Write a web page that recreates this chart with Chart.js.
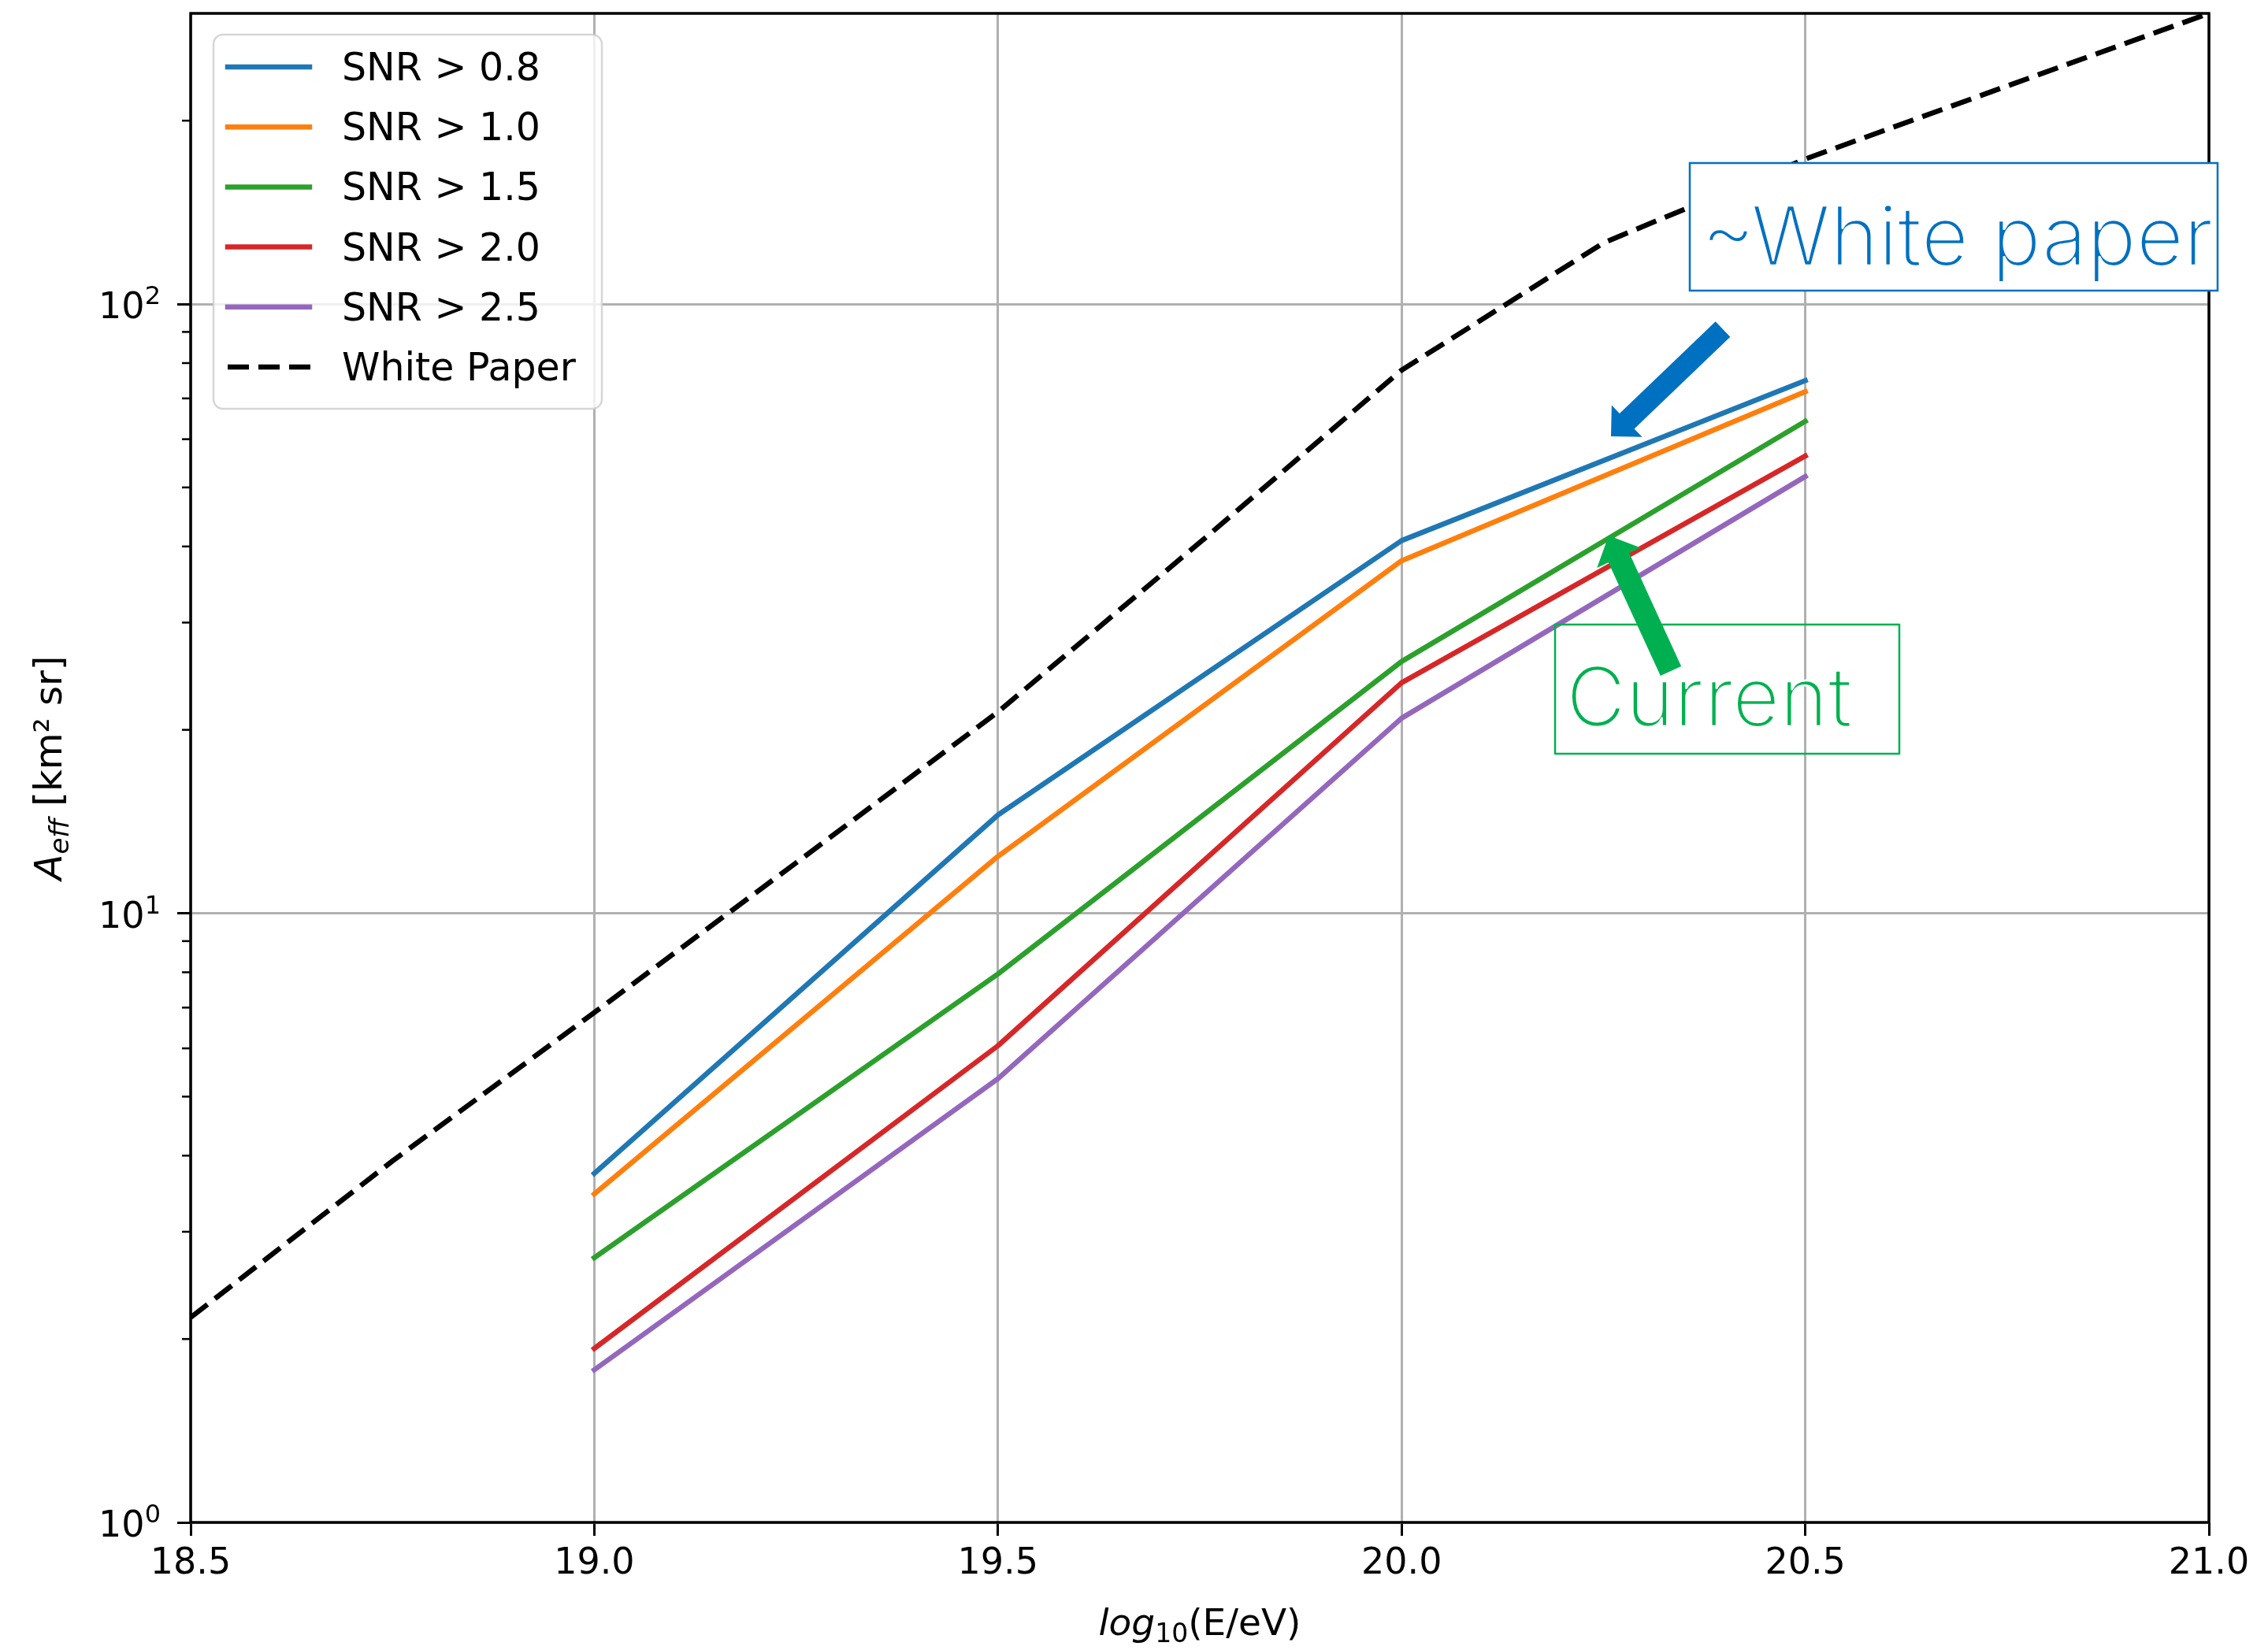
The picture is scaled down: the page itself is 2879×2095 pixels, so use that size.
<!DOCTYPE html>
<html>
<head>
<meta charset="utf-8">
<script src="https://cdn.jsdelivr.net/npm/chart.js@4.4.1/dist/chart.umd.min.js"></script>
<style>
  html, body { margin: 0; padding: 0; background: #fff; overflow: hidden; }
  #chart { display: block; }
</style>
</head>
<body>
<canvas id="chart" width="2879" height="2095"></canvas>
<script>
// energy bins, log10(E/eV)
const energies = [19.0, 19.5, 20.0, 20.5];

// effective aperture [km^2 sr] per SNR cut
const snr08 = [3.74, 14.5, 40.9, 74.9];
const snr10 = [3.46, 12.4, 37.9, 71.8];
const snr15 = [2.72, 7.95, 25.9, 64.2];
const snr20 = [1.93, 6.06, 23.9, 56.3];
const snr25 = [1.78, 5.35, 20.9, 52.1];

// white paper reference curve
const wpEnergies = [18.5, 18.75, 19.0, 19.25, 19.5, 19.75, 20.0, 20.25, 20.5, 20.75, 21.0];
const wpAeff = [2.17, 3.92, 6.87, 12.1, 21.4, 40.6, 77.9, 126, 173, 228, 300];

const seriesLabels = ['SNR > 0.8', 'SNR > 1.0', 'SNR > 1.5', 'SNR > 2.0', 'SNR > 2.5', 'White Paper'];
const seriesColors = ['#1f77b4', '#ff7f0e', '#2ca02c', '#d62728', '#9467bd', '#000000'];

// axis ticks
const xTicks = [18.5, 19.0, 19.5, 20.0, 20.5, 21.0];
const yMajorTicks = [1, 10, 100];
const yMinorTicks = [2, 3, 4, 5, 6, 7, 8, 9, 20, 30, 40, 50, 60, 70, 80, 90, 200];

const FONT = '"DejaVu Sans", sans-serif';

function pts(xs, ys) {
  return xs.map((x, i) => ({ x: x, y: ys[i] }));
}

const snrSeries = [snr08, snr10, snr15, snr20, snr25];
const datasets = snrSeries.map((vals, i) => ({
  label: seriesLabels[i],
  data: pts(energies, vals),
  borderColor: seriesColors[i],
  borderWidth: 6.5,
  borderCapStyle: 'square',
  borderJoinStyle: 'round'
}));
datasets.push({
  label: seriesLabels[5],
  data: pts(wpEnergies, wpAeff),
  borderColor: seriesColors[5],
  borderWidth: 6.5,
  borderDash: [27, 12],
  borderCapStyle: 'butt',
  borderJoinStyle: 'round'
});

// draw a run of text pieces, returns total width
function textRun(ctx, parts, x, y, measureOnly) {
  let cx = x;
  parts.forEach(p => {
    ctx.font = (p.italic ? 'italic ' : '') + p.size + 'px ' + FONT;
    if (!measureOnly) ctx.fillText(p.text, cx, y + (p.dy || 0));
    cx += ctx.measureText(p.text).width;
  });
  return cx - x;
}

function drawArrow(ctx, tail, tip, shaftW, headW, headL, color) {
  const dx = tip[0] - tail[0], dy = tip[1] - tail[1];
  const len = Math.hypot(dx, dy);
  const ux = dx / len, uy = dy / len;
  const px = -uy, py = ux;
  const bx = tip[0] - ux * headL, by = tip[1] - uy * headL;
  ctx.fillStyle = color;
  ctx.beginPath();
  ctx.moveTo(tail[0] + px * shaftW / 2, tail[1] + py * shaftW / 2);
  ctx.lineTo(bx + px * shaftW / 2, by + py * shaftW / 2);
  ctx.lineTo(bx + px * headW / 2, by + py * headW / 2);
  ctx.lineTo(tip[0], tip[1]);
  ctx.lineTo(bx - px * headW / 2, by - py * headW / 2);
  ctx.lineTo(bx - px * shaftW / 2, by - py * shaftW / 2);
  ctx.lineTo(tail[0] - px * shaftW / 2, tail[1] - py * shaftW / 2);
  ctx.closePath();
  ctx.fill();
}

// light-weight looking label: fill, then trim the strokes with a thin white outline
function lightText(ctx, text, x, y, color) {
  ctx.fillStyle = color;
  ctx.fillText(text, x, y);
  ctx.strokeStyle = '#fff';
  ctx.lineWidth = 2.5;
  ctx.lineJoin = 'round';
  ctx.strokeText(text, x, y);
}

const decorations = {
  id: 'decorations',
  afterDatasetsDraw(chart) {
    const ctx = chart.ctx;
    const a = chart.chartArea;
    const y = chart.scales.y;
    ctx.save();

    // minor ticks on log axis
    ctx.strokeStyle = '#000';
    ctx.lineWidth = 2.5;
    yMinorTicks.forEach(v => {
      const py = y.getPixelForValue(v);
      ctx.beginPath();
      ctx.moveTo(a.left - 11, py);
      ctx.lineTo(a.left, py);
      ctx.stroke();
    });

    // spines
    ctx.lineWidth = 3.5;
    ctx.strokeRect(a.left, a.top, a.right - a.left, a.bottom - a.top);

    // y tick labels 10^n
    ctx.fillStyle = '#000';
    ctx.textBaseline = 'alphabetic';
    ctx.textAlign = 'left';
    yMajorTicks.forEach(v => {
      const py = y.getPixelForValue(v);
      const parts = [
        { text: '10', size: 46 },
        { text: String(Math.round(Math.log10(v))), size: 32, dy: -18 }
      ];
      const w = textRun(ctx, parts, 0, 0, true);
      textRun(ctx, parts, a.left - 38 - w, py + 18, false);
    });

    // x axis title
    const xParts = [
      { text: 'log', size: 47, italic: true },
      { text: '10', size: 33, dy: 9 },
      { text: '(E/eV)', size: 47 }
    ];
    const xw = textRun(ctx, xParts, 0, 0, true);
    textRun(ctx, xParts, (a.left + a.right) / 2 - xw / 2, 2076, false);

    // y axis title
    const yParts = [
      { text: 'A', size: 48, italic: true },
      { text: 'eff', size: 34, italic: true, dy: 9 },
      { text: ' [km\u00b2 sr]', size: 48 }
    ];
    const yw = textRun(ctx, yParts, 0, 0, true);
    ctx.translate(78, (a.top + a.bottom) / 2 + 0);
    ctx.rotate(-Math.PI / 2);
    textRun(ctx, yParts, -yw / 2, 0, false);
    ctx.restore();
  },
  afterDraw(chart) {
    const ctx = chart.ctx;
    ctx.save();

    // legend
    ctx.beginPath();
    ctx.roundRect(271, 44, 493, 475, 12);
    ctx.fillStyle = 'rgba(255,255,255,0.8)';
    ctx.fill();
    ctx.strokeStyle = 'rgba(204,204,204,0.8)';
    ctx.lineWidth = 2.5;
    ctx.stroke();
    chart.data.datasets.forEach((ds, i) => {
      const ry = 85 + i * 76.2;
      ctx.strokeStyle = ds.borderColor;
      ctx.lineWidth = 6.5;
      ctx.lineCap = ds.borderDash ? 'butt' : 'square';
      ctx.setLineDash(ds.borderDash || []);
      ctx.beginPath();
      ctx.moveTo(289, ry);
      ctx.lineTo(ds.borderDash ? 396 : 393, ry);
      ctx.stroke();
      ctx.setLineDash([]);
      ctx.fillStyle = '#000';
      ctx.font = '49px ' + FONT;
      ctx.textBaseline = 'alphabetic';
      ctx.fillText(ds.label, 434, ry + 17);
    });

    // annotation: ~White paper
    ctx.fillStyle = '#fff';
    ctx.fillRect(2145, 207, 670, 162);
    ctx.strokeStyle = '#0070C0';
    ctx.lineWidth = 2.5;
    ctx.strokeRect(2145, 207, 670, 162);
    ctx.font = '300 104px Inter, "Noto Sans", sans-serif';
    lightText(ctx, '~White paper', 2160, 337, '#0070C0');
    drawArrow(ctx, [2187, 418], [2045, 554], 27, 56, 28, '#0070C0');

    // annotation: Current
    ctx.strokeStyle = '#00B050';
    ctx.lineWidth = 2.5;
    ctx.strokeRect(1974, 793, 437, 164);
    lightText(ctx, 'Current', 1988, 922, '#00B050');
    drawArrow(ctx, [2121, 852], [2042, 680], 29, 61, 31, '#00B050');
    ctx.restore();
  }
};

new Chart(document.getElementById('chart'), {
  type: 'line',
  data: { datasets: datasets },
  options: {
    responsive: false,
    animation: false,
    devicePixelRatio: 1,
    layout: { padding: { top: 17, right: 75, left: 0, bottom: 0 } },
    plugins: { legend: { display: false }, tooltip: { enabled: false } },
    elements: { point: { radius: 0 }, line: { tension: 0 } },
    scales: {
      x: {
        type: 'linear',
        min: 18.5,
        max: 21,
        afterBuildTicks: s => { s.ticks = xTicks.map(v => ({ value: v })); },
        afterFit: s => { s.height = 162; },
        border: { display: false },
        grid: { color: '#b0b0b0', lineWidth: 3, tickColor: '#000', tickLength: 17, tickWidth: 3 },
        ticks: {
          callback: v => v.toFixed(1),
          font: { family: FONT, size: 46 },
          color: '#000',
          padding: 8,
          maxRotation: 0,
          autoSkip: false
        }
      },
      y: {
        type: 'logarithmic',
        min: 1,
        max: 300,
        afterBuildTicks: s => { s.ticks = yMajorTicks.map(v => ({ value: v })); },
        afterFit: s => { s.width = 242; },
        border: { display: false },
        grid: { color: '#b0b0b0', lineWidth: 3, tickColor: '#000', tickLength: 17, tickWidth: 3 },
        ticks: { callback: () => '', autoSkip: false }
      }
    }
  },
  plugins: [decorations]
});
</script>
</body>
</html>
